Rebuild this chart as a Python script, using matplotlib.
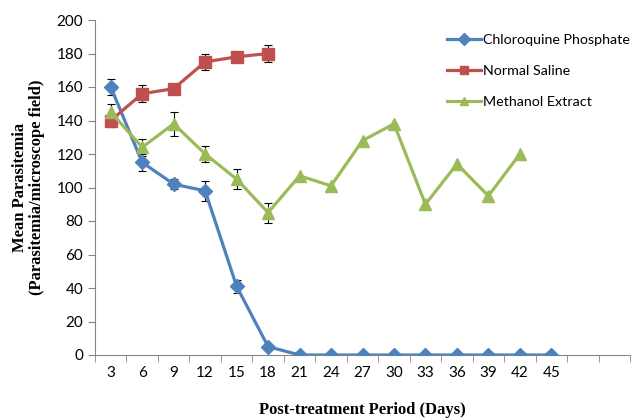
import matplotlib
matplotlib.use("Agg")
import matplotlib.pyplot as plt
import numpy as np

days = ["3", "6", "9", "12", "15", "18", "21", "24", "27", "30", "33", "36", "39", "42", "45", "", ""]
chloroquine = [160, 115, 102, 98, 41, 5, 0, 0, 0, 0, 0, 0, 0, 0, 0]
chloroquine_err = [5, 5, 3, 6, 4, 0, 0, 0, 0, 0, 0, 0, 0, 0, 0]
saline = [140, 156, 159, 175, 178, 180]
saline_err = [4, 5, 2, 5, 3, 5]
methanol = [145, 124, 138, 120, 105, 85, 107, 101, 128, 138, 90, 114, 95, 120]
methanol_err = [5, 5, 7, 5, 6, 6, 0, 0, 0, 0, 0, 0, 0, 0]

blue = "#4F81BD"
red = "#C0504D"
green = "#9BBB59"
tickfont = "Lato"

fig = plt.figure(figsize=(6.39, 4.2), dpi=100)
ax = fig.add_axes([95/639, 65/420, 535/639, 335/420])

x_c = np.arange(len(chloroquine))
x_s = np.arange(len(saline))
x_m = np.arange(len(methanol))

def errs(x, y, e):
    for xi, yi, ei in zip(x, y, e):
        if ei > 0:
            ax.errorbar([xi], [yi], yerr=[ei], fmt="none", ecolor="black",
                        elinewidth=0.8, capsize=3, capthick=0.8, zorder=1)

errs(x_c, chloroquine, chloroquine_err)
errs(x_s, saline, saline_err)
errs(x_m, methanol, methanol_err)

ax.plot(x_c, chloroquine, color=blue, lw=2.3, marker="D", ms=7, label="Chloroquine Phosphate", zorder=3)
ax.plot(x_s, saline, color=red, lw=2.3, marker="s", ms=8.5, label="Normal Saline", zorder=3)
ax.plot(x_m, methanol, color=green, lw=2.3, marker="^", ms=9, label="Methanol Extract", zorder=3)

ax.set_xlim(-0.5, len(days) - 0.5)
ax.set_ylim(0, 200)
ax.set_yticks(np.arange(0, 201, 20))
ax.set_xticks(np.arange(len(days)))
ax.set_xticklabels(days)
ax.set_xticks(np.arange(len(days) + 1) - 0.5, minor=True)
ax.tick_params(axis="x", which="major", length=0, pad=8, labelsize=11)
ax.tick_params(axis="x", which="minor", length=5, color="#868686", direction="out")
ax.tick_params(axis="y", length=5, color="#868686", labelsize=11, direction="out")
for lab in ax.get_xticklabels() + ax.get_yticklabels():
    lab.set_fontfamily(tickfont)

for s in ["top", "right"]:
    ax.spines[s].set_visible(False)
ax.spines["left"].set_color("#868686")
ax.spines["bottom"].set_color("#868686")

ax.set_ylabel("Mean Parasitemia\n(Parasitemia/microscope field)", fontfamily="Liberation Serif",
              fontweight="bold", fontsize=12, labelpad=8, linespacing=1.1)
fig.text((95+630)/2/639, 2/420, "Post-treatment Period (Days)", ha="center", va="bottom",
         fontfamily="Liberation Serif", fontweight="bold", fontsize=12)

leg = ax.legend(loc="upper left", bbox_to_anchor=(441/639, 1 - 28/420), bbox_transform=fig.transFigure,
                frameon=False, prop={"family": tickfont, "size": 10.3}, handlelength=2.4,
                handletextpad=0.15, labelspacing=1.35, borderaxespad=0)
for h in leg.legend_handles:
    h.set_markersize(6)

fig.savefig("out.png", dpi=100)
